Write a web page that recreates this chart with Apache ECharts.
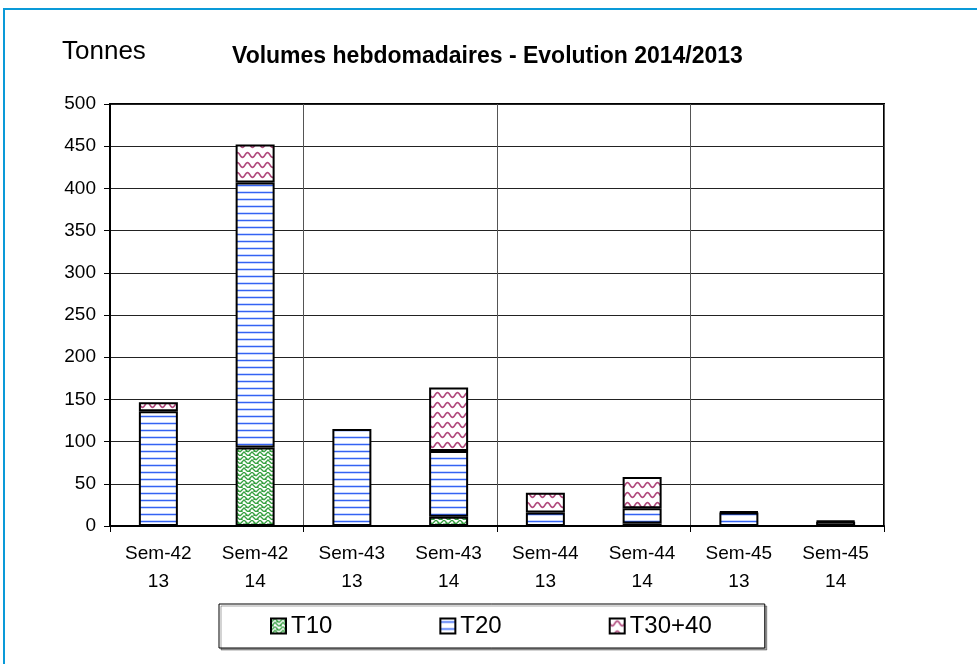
<!DOCTYPE html>
<html>
<head>
<meta charset="utf-8">
<script src="https://cdn.jsdelivr.net/npm/echarts@6/dist/echarts.min.js"></script>
<style>
  html, body { margin: 0; padding: 0; background: #fff; }
  #chart { position: absolute; left: 0; top: 0; width: 977px; height: 664px; }
  #frame { position: absolute; left: 3px; top: 8px; width: 980px; height: 670px;
           border-left: 2px solid #0a9ad8; border-top: 2px solid #0a9ad8; pointer-events: none; }
</style>
</head>
<body>
<div id="chart"></div>
<div id="frame"></div>
<script>
  // semaines (libellé sur deux lignes : semaine / année)
  const weeks = ['Sem-42', 'Sem-42', 'Sem-43', 'Sem-43', 'Sem-44', 'Sem-44', 'Sem-45', 'Sem-45'];
  const years = ['13', '14', '13', '14', '13', '14', '13', '14'];
  const seriesNames = ['T10', 'T20', 'T30+40'];
  // tonnes par semaine
  const t10 = [null, 93, null, 11, null, 3, null, null];
  const t20 = [136, 314, 115, 78, 16, 18, 16, 5];
  const t3040 = [10.5, 45, null, 75, 23.5, 37, 1, 1];
  const yTicks = { min: 0, max: 500, step: 50 };

  const FONT = '"Liberation Sans", Arial, sans-serif';

  // motifs type Excel
  function tile(w, h, draw) {
    const c = document.createElement('canvas');
    c.width = w; c.height = h;
    const ctx = c.getContext('2d');
    ctx.fillStyle = '#fff';
    ctx.fillRect(0, 0, w, h);
    draw(ctx);
    return { image: c, repeat: 'repeat' };
  }

  const patT20 = tile(8, 7, ctx => {
    ctx.fillStyle = '#c9d7ff';
    ctx.fillRect(0, 2, 8, 3);
    ctx.fillStyle = '#3563f2';
    ctx.fillRect(0, 3, 8, 1);
  });

  const patT30 = tile(10, 10, ctx => {
    ctx.strokeStyle = '#b04a7c';
    ctx.lineWidth = 1.6;
    ctx.beginPath();
    for (let x = -1; x <= 11; x += 0.5) {
      const y = 5 + 2.4 * Math.sin(x / 10 * Math.PI * 2);
      if (x === -1) ctx.moveTo(x, y); else ctx.lineTo(x, y);
    }
    ctx.stroke();
  });

  const patT10 = tile(8, 8, ctx => {
    ctx.strokeStyle = '#37a041';
    ctx.lineWidth = 1.3;
    ctx.beginPath();
    ctx.moveTo(0, 4); ctx.lineTo(4, 0); ctx.lineTo(8, 4);
    ctx.moveTo(0, 8); ctx.lineTo(4, 4); ctx.lineTo(8, 8);
    ctx.moveTo(2, 6); ctx.lineTo(2, 8);
    ctx.moveTo(6, 2); ctx.lineTo(6, 4);
    ctx.stroke();
  });

  const patterns = [patT10, patT20, patT30];
  const values = [t10, t20, t3040];

  // un trait vertical toutes les deux semaines
  const everyOther = i => i % 2 === 0;
  const innerEveryOther = i => i % 2 === 0 && i > 0;

  const chart = echarts.init(document.getElementById('chart'), null, { renderer: 'canvas' });

  chart.setOption({
    backgroundColor: '#fff',
    animation: false,
    title: [
      { text: 'Tonnes', left: 57, top: 34,
        textStyle: { fontFamily: FONT, fontSize: 26, fontWeight: 'normal', color: '#000' } },
      { text: 'Volumes hebdomadaires - Evolution 2014/2013', left: 227, top: 40,
        textStyle: { fontFamily: FONT, fontSize: 23, fontWeight: 'bold', color: '#000' } }
    ],
    grid: {
      left: 110, right: 93, top: 104, bottom: 138,
      show: true, borderColor: '#000', borderWidth: 2, backgroundColor: '#fff'
    },
    legend: {
      data: seriesNames,
      left: 219, top: 604,
      padding: [10, 53, 10, 51],
      itemGap: 107,
      itemWidth: 15, itemHeight: 15,
      borderColor: '#000', borderWidth: 1,
      shadowColor: 'rgba(0,0,0,0.35)', shadowOffsetX: 2, shadowOffsetY: 2, shadowBlur: 0,
      backgroundColor: '#fff',
      icon: 'rect',
      textStyle: { fontFamily: FONT, fontSize: 24, color: '#000' }
    },
    xAxis: {
      type: 'category',
      data: weeks.map((w, i) => w + '\n' + years[i]),
      axisLine: { lineStyle: { color: '#000', width: 2 } },
      axisTick: { show: true, interval: everyOther, length: 6, lineStyle: { color: '#000', width: 1 } },
      axisLabel: { interval: 0, margin: 14, fontFamily: FONT, fontSize: 19, lineHeight: 28, color: '#000' },
      splitLine: { show: true, interval: innerEveryOther, lineStyle: { color: '#555', width: 1 } }
    },
    yAxis: {
      type: 'value',
      min: yTicks.min, max: yTicks.max, interval: yTicks.step,
      axisLine: { show: true, lineStyle: { color: '#000', width: 2 } },
      axisTick: { show: true, length: 6, lineStyle: { color: '#000' } },
      axisLabel: { margin: 14, fontFamily: FONT, fontSize: 19, color: '#000' },
      splitLine: { lineStyle: { color: '#222', width: 1 } }
    },
    series: seriesNames.map((name, k) => ({
      name: name,
      type: 'bar',
      stack: 'vol',
      barWidth: 39,
      data: values[k],
      itemStyle: { color: patterns[k], borderColor: '#000', borderWidth: 2 }
    }))
  });
</script>
</body>
</html>
